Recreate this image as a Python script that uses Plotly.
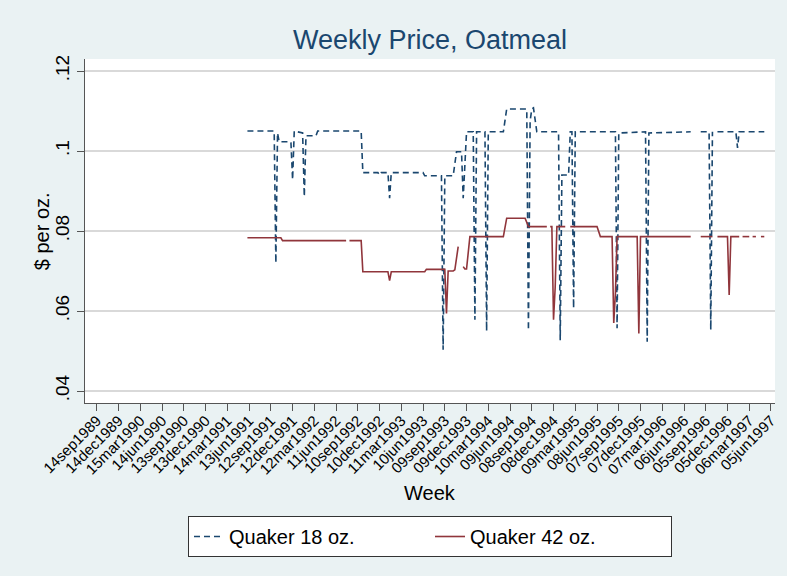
import plotly.graph_objects as go

# Week index: weeks since 14sep1989 (Dominick's weeks)
tick_weeks = [0, 13, 26, 39, 52, 65, 78, 91, 104, 117, 130, 143, 156, 169, 182, 195,
              208, 221, 234, 247, 260, 273, 286, 299, 312, 325, 338, 351, 364, 377, 390, 403]
tick_labels = ["14sep1989", "14dec1989", "15mar1990", "14jun1990", "13sep1990", "13dec1990",
               "14mar1991", "13jun1991", "12sep1991", "12dec1991", "12mar1992", "11jun1992",
               "10sep1992", "10dec1992", "11mar1993", "10jun1993", "09sep1993", "09dec1993",
               "10mar1994", "09jun1994", "08sep1994", "08dec1994", "09mar1995", "08jun1995",
               "07sep1995", "07dec1995", "07mar1996", "06jun1996", "05sep1996", "05dec1996",
               "06mar1997", "05jun1997"]

y_ticks = [0.04, 0.06, 0.08, 0.10, 0.12]
y_labels = [".04", ".06", ".08", ".1", ".12"]

# Quaker 18 oz. (price per oz.) at the weeks where the price changes
week_18 = [90, 106, 107, 108, 109, 116, 117, 118, 123, 124, 125, 131, 132, 158, 159, 168,
           169, 170, 174, 175, 176, 195, 196, 206, 207, 208, 213, 214, 215, 218, 219, 220,
           221, 225, 226, 227, 232, 233, 234, 243, 244, 245, 257, 258, 259, 260, 261, 262,
           263, 276, 277, 278, 282, 283, 284, 285, 286, 310, 311, 312, 328, 329, 330, 355,
           358, 361, 366, 367, 368, 369, 371, 382, 383, 384, 399]
price_18 = [0.105, 0.105, 0.072, 0.1045, 0.1023, 0.1023, 0.0928, 0.105, 0.1045, 0.0886,
            0.1038, 0.1038, 0.105, 0.105, 0.0946, 0.0946, 0.0940, 0.0946, 0.0946, 0.0882,
            0.0946, 0.0946, 0.0938, 0.0938, 0.0503, 0.0938, 0.0938, 0.0965, 0.0998, 0.0998,
            0.0882, 0.0965, 0.1048, 0.1048, 0.0578, 0.1048, 0.1048, 0.055, 0.1048, 0.1048,
            0.1075, 0.1105, 0.1105, 0.0552, 0.1075, 0.1105, 0.1108, 0.108, 0.1048, 0.1048,
            0.0527, 0.094, 0.094, 0.1048, 0.1048, 0.0607, 0.1048, 0.1048, 0.0557, 0.1045,
            0.1048, 0.0523, 0.1045, 0.1048, None, 0.1048, 0.1048, 0.0553, 0.1048, None,
            0.1048, 0.1048, 0.1008, 0.1048, 0.1048]

# Quaker 42 oz.
week_42 = [90, 110, 111, 149, 150, 151, 158, 159, 174, 175, 176, 196, 197, 208, 209, 210,
           213, 214, 215, 216, 217, 219, 220, 221, 222, 223, 243, 244, 245, 256, 258, 269,
           270, 271, 272, 273, 274, 275, 280, 281, 283, 299, 301, 308, 309, 310, 311, 323,
           324, 325, 355, 358, 361, 368, 369, 371, 377, 378, 379, 384, 385, 386, 390, 391,
           392, 394, 395, 397, 399]
price_42 = [0.0783, 0.0783, 0.0776, 0.0776, None, 0.0776, 0.0776, 0.0698, 0.0698, 0.0676,
            0.0698, 0.0698, 0.0704, 0.0704, 0.0594, 0.0700, 0.0700, 0.0703, 0.0735, 0.0761,
            None, 0.0711, 0.0705, 0.0705, 0.0745, 0.0786, 0.0786, 0.081, 0.0832, 0.0832,
            0.0811, 0.0811, None, 0.0811, 0.0811, 0.0578, 0.066, 0.0811, 0.0811, None,
            0.0811, 0.0811, 0.0786, 0.0786, 0.057, 0.0645, 0.0786, 0.0786, 0.0544, 0.0786,
            0.0786, None, 0.0786, 0.0786, None, 0.0786, 0.0786, 0.064, 0.0786, 0.0786,
            None, 0.0786, 0.0786, None, 0.0786, 0.0786, None, 0.0786, 0.0786]

NAVY = "#1a476f"
RED = "#90353b"

fig = go.Figure()
fig.add_trace(go.Scatter(x=week_18, y=price_18, mode="lines", name="Quaker 18 oz.",
                         line=dict(color=NAVY, width=1.6, dash="6px,4px")))
fig.add_trace(go.Scatter(x=week_42, y=price_42, mode="lines", name="Quaker 42 oz.",
                         line=dict(color=RED, width=1.6)))

FONT = "Liberation Sans, Arial, Helvetica, sans-serif"

fig.update_layout(
    width=787, height=576,
    paper_bgcolor="#eaf2f3", plot_bgcolor="white",
    margin=dict(l=85, r=9, t=59, b=173),
    font=dict(family=FONT, color="black"),
    title=dict(text="Weekly Price, Oatmeal", x=0.5, xref="paper", xanchor="center",
               y=1 - 40 / 576, yref="container", yanchor="middle",
               font=dict(size=27, color=NAVY, family=FONT)),
    showlegend=True,
    legend=dict(orientation="h", x=0.5, xanchor="center", xref="paper",
                y=(403 - 516) / 344, yanchor="top", yref="paper",
                bgcolor="white", bordercolor="#333333", borderwidth=1,
                font=dict(size=20, color="black"), entrywidth=196, entrywidthmode="pixels"),
    xaxis=dict(range=[-7.1, 405.4], tickmode="array", tickvals=tick_weeks, ticktext=tick_labels,
               tickangle=-45, ticks="outside", ticklen=7, tickcolor="#555555",
               showline=True, linecolor="#555555", linewidth=1, showgrid=False, zeroline=False,
               tickfont=dict(size=15), ticklabelstandoff=-5),
    yaxis=dict(range=[0.037, 0.123], tickmode="array", tickvals=y_ticks, ticktext=y_labels,
               tickangle=-90, ticks="outside", ticklen=7, tickcolor="#555555",
               showline=True, linecolor="#555555", linewidth=1,
               showgrid=True, gridcolor="#d9d9d9", gridwidth=1.5, zeroline=False,
               tickfont=dict(size=19)),
    annotations=[
        dict(text="Week", xref="paper", yref="paper", x=0.5, y=(403 - 493) / 344,
             xanchor="center", yanchor="middle", showarrow=False, font=dict(size=20)),
        dict(text="$ per oz.", xref="paper", yref="paper", x=(42 - 85) / 693, y=0.5,
             xanchor="center", yanchor="middle", textangle=-90, showarrow=False,
             font=dict(size=20)),
    ],
)

fig.write_html("out.html", config={"displayModeBar": False},
               post_script="document.body.style.margin='0';")
